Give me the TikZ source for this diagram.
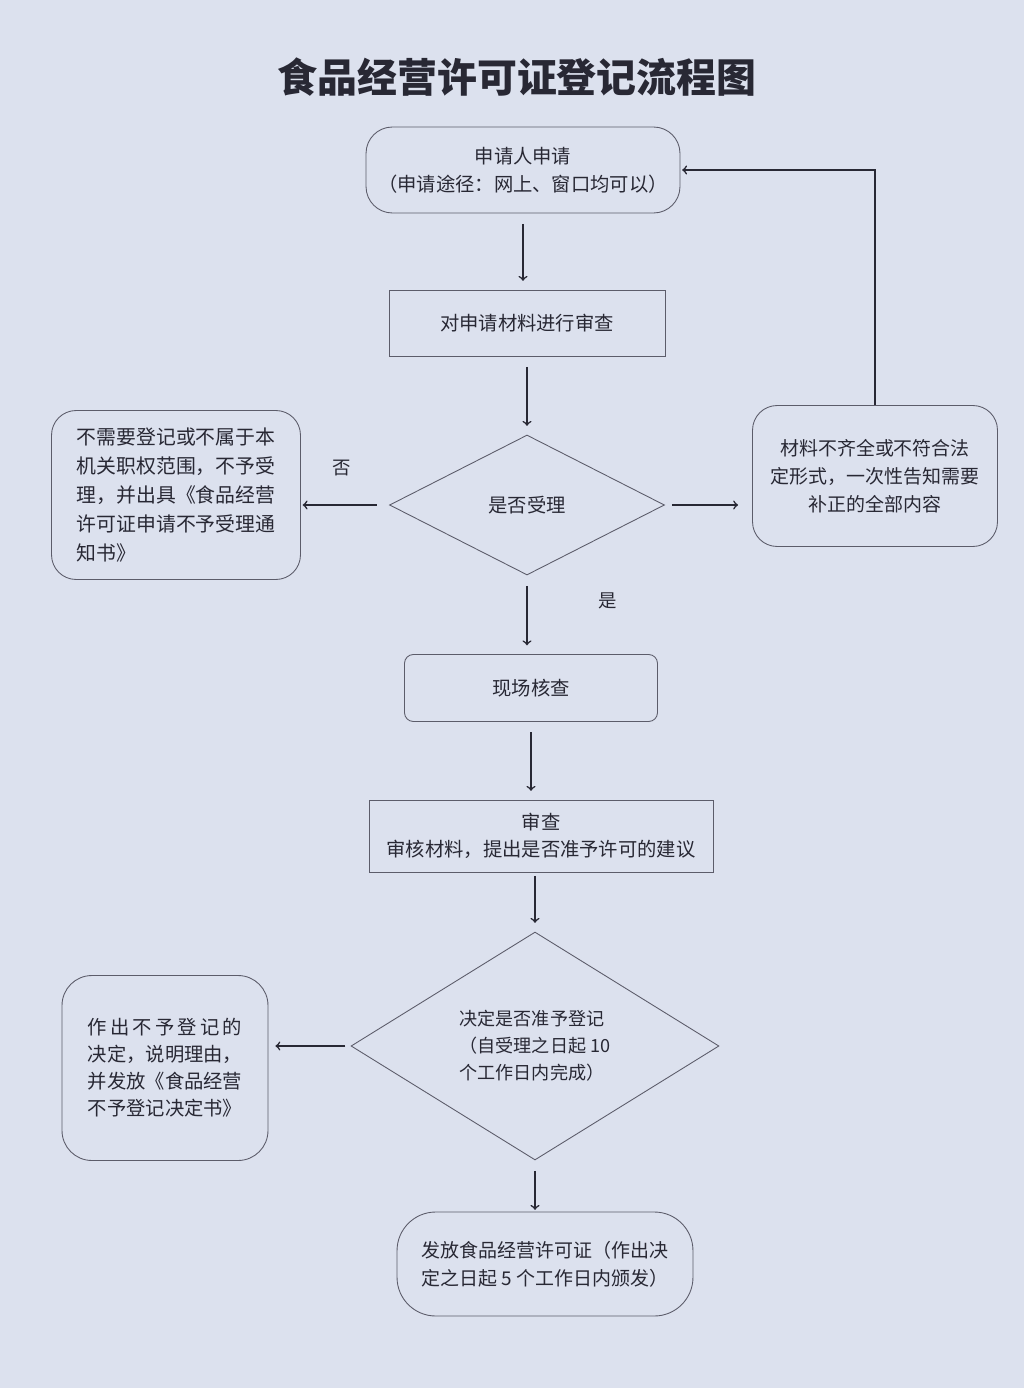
\documentclass[tikz,border=0pt]{standalone}
\usepackage{fontspec}
\setmainfont{Noto Sans CJK SC}
\usepackage{tikz}
\usetikzlibrary{shapes,arrows}

\definecolor{paper}{RGB}{220,225,238}
\definecolor{ink}{RGB}{40,40,52}
\definecolor{edge}{RGB}{92,92,106}

\begin{document}
\begin{tikzpicture}[x=0.02cm, y=-0.02cm,
    box/.style={draw=edge, line width=0.5pt, text=ink, align=center, inner sep=0pt, font=\fontsize{11}{16}\selectfont},
    rbox/.style={box, rounded corners=#1}, rbox/.default=8pt,
    dec/.style={box, diamond, aspect=2},
    flow/.style={->, draw=ink, line width=0.9pt, shorten <=6pt, shorten >=5pt},
    lbl/.style={text=ink, font=\fontsize{10.5}{12}\selectfont}]
\fill[paper] (0,0) rectangle (1024,1388);
\useasboundingbox (0,0) rectangle (1024,1388);

\node (Title) [text=ink, font=\fontsize{22.7}{26}\selectfont\bfseries] at (517,77) {食品经营许可证登记流程图};

% main column
\node (Apply) [rbox=15pt, minimum width=6.28cm, minimum height=1.72cm] at (523,170) {申请人申请\\（申请途径：网上、窗口均可以）};
\node (Review) [box, minimum width=5.52cm, minimum height=1.32cm] at (527,323) {对申请材料进行审查};
\node (Accept) [dec, minimum width=5.5cm, minimum height=2.8cm] at (527,505) {是否受理};
\node (Site) [rbox=5pt, minimum width=5.06cm, minimum height=1.34cm] at (531,688) {现场核查};
\node (Audit) [box, minimum width=6.88cm, minimum height=1.44cm, font=\fontsize{11}{15.4}\selectfont] at (541,836) {审查\\审核材料，提出是否准予许可的建议};
\node (Decide) [dec, minimum width=7.36cm, minimum height=4.56cm, align=left, font=\fontsize{10.3}{15.4}\selectfont] at (535,1046) {决定是否准予登记\\（自受理之日起 10\\个工作日内完成）};
\node (Issue) [rbox=22pt, minimum width=5.92cm, minimum height=2.08cm, align=left, font=\fontsize{10.8}{16}\selectfont] at (545,1264) {发放食品经营许可证（作出决\\定之日起 5 个工作日内颁发）};

% side boxes
\node (NoAccept) [rbox=14pt, minimum width=4.98cm, minimum height=3.38cm, align=left, font=\fontsize{11.3}{16.5}\selectfont] at (176,495) {不需要登记或不属于本\\机关职权范围，不予受\\理，并出具《食品经营\\许可证申请不予受理通\\知书》};
\node (Amend) [rbox=14pt, minimum width=4.9cm, minimum height=2.82cm, font=\fontsize{10.8}{16}\selectfont] at (875,476) {材料不齐全或不符合法\\定形式，一次性告知需要\\补正的全部内容};
\node (Refuse) [rbox=17pt, minimum width=4.12cm, minimum height=3.7cm, align=left, font=\fontsize{11}{15.4}\selectfont] at (165,1068) {作\,出\,不\,予\,登\,记\,的\\决定，说明理由，\\并发放《食品经营\\不予登记决定书》};

\node (No) [lbl] at (342,468) {否};
\node (Yes) [lbl] at (608,601) {是};

\draw[flow] (Apply.south) -- (Apply.south |- Review.north);
\draw[flow] (Review.south) -- (Review.south |- Accept.north);
\draw[flow] (Accept.south) -- (Accept.south |- Site.north);
\draw[flow] (Site.south) -- (Site.south |- Audit.north);
\draw[flow, shorten <=2pt] (Decide.north |- Audit.south) -- (Decide.north);
\draw[flow, shorten >=1pt] (Decide.south) -- (Decide.south |- Issue.north);
\draw[flow, shorten <=7pt, shorten >=1pt] (Accept.west) -- (NoAccept.east |- Accept.west);
\draw[flow, shorten <=4pt, shorten >=8pt] (Accept.east) -- (Amend.west |- Accept.east);
\draw[flow, shorten <=3pt, shorten >=4pt] (Decide.west) -- (Refuse.east |- Decide.west);
\draw[flow, shorten <=0pt, shorten >=1pt] (Amend.north) |- (Apply.east);
\end{tikzpicture}
\end{document}
